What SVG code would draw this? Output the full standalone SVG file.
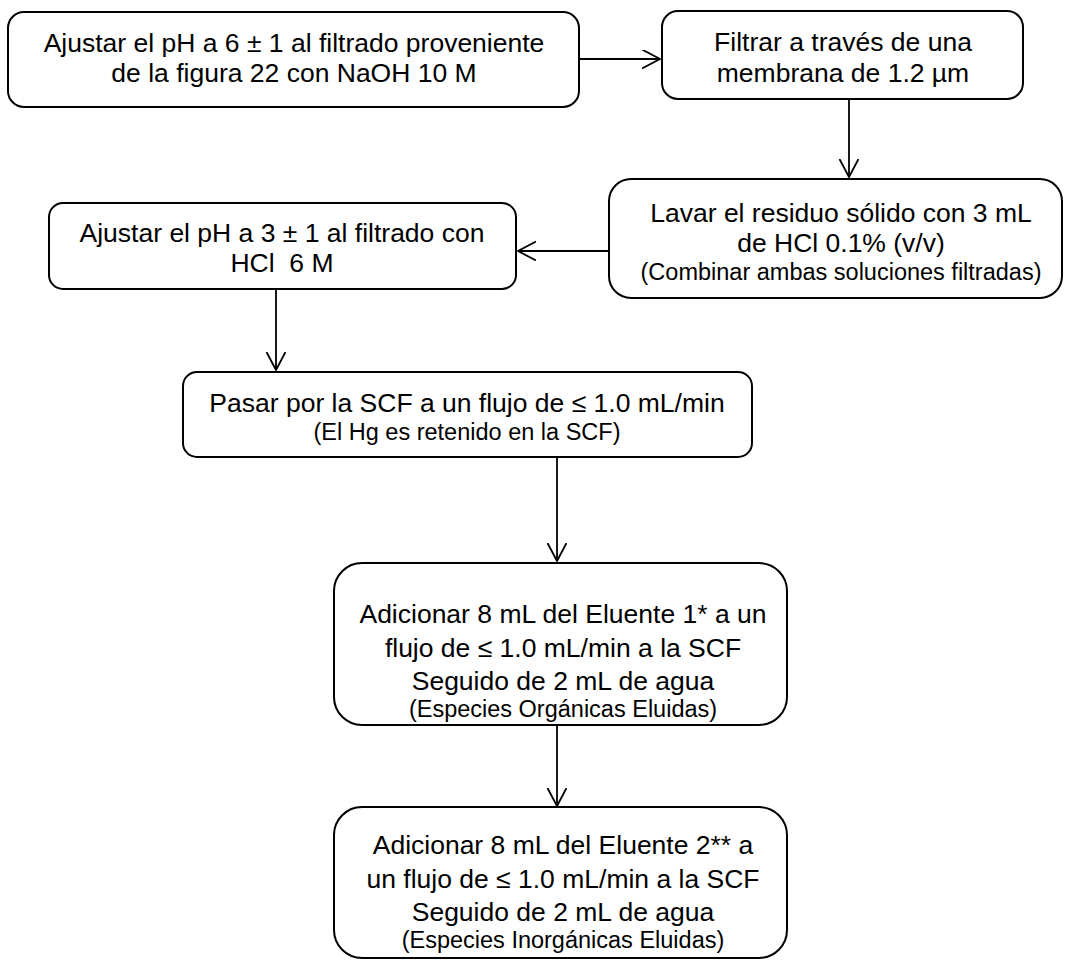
<svg xmlns="http://www.w3.org/2000/svg" width="1065" height="962" viewBox="0 0 1065 962">
<defs>
<marker id="open" markerUnits="userSpaceOnUse" markerWidth="22" markerHeight="22" refX="18" refY="9.5" orient="auto" viewBox="0 0 22 22">
<path d="M0,0 L18,9.5 L0,19" fill="none" stroke="#000" stroke-width="1.8"/>
</marker>
<style>
.box{fill:#fff;stroke:#000;stroke-width:2}
.t{font-family:"Liberation Sans",Arial,sans-serif;font-size:26.5px;fill:#000;text-anchor:middle}
.s{font-family:"Liberation Sans",Arial,sans-serif;font-size:23.5px;fill:#000;text-anchor:middle}
.c{stroke:#000;stroke-width:1.8;fill:none;marker-end:url(#open)}
</style>
</defs>
<rect width="1065" height="962" fill="#fff"/>
<g id="connectors">
<line class="c" x1="579" y1="59" x2="660" y2="59"/>
<line class="c" x1="849" y1="99" x2="849" y2="177"/>
<line class="c" x1="609" y1="251" x2="518" y2="251"/>
<line class="c" x1="276" y1="289" x2="276" y2="370"/>
<line class="c" x1="557" y1="457" x2="557" y2="561"/>
<line class="c" x1="557" y1="725" x2="557" y2="806"/>
</g>
<g id="n1">
<rect class="box" x="8" y="12" width="571" height="95" rx="16"/>
<text class="t" x="294" y="52">Ajustar el pH a 6 ± 1 al filtrado proveniente</text>
<text class="t" x="294" y="82">de la figura 22 con NaOH 10 M</text>
</g>
<g id="n2">
<rect class="box" x="662" y="11" width="361" height="88" rx="16"/>
<text class="t" x="843" y="51">Filtrar a través de una</text>
<text class="t" x="843" y="82">membrana de 1.2 µm</text>
</g>
<g id="n3">
<rect class="box" x="609" y="179" width="453" height="119" rx="22"/>
<text class="t" x="841" y="222">Lavar el residuo sólido con 3 mL</text>
<text class="t" x="841" y="252">de HCl 0.1% (v/v)</text>
<text class="s" x="841" y="280">(Combinar ambas soluciones filtradas)</text>
</g>
<g id="n4">
<rect class="box" x="49" y="203" width="467" height="86" rx="14"/>
<text class="t" x="282" y="242">Ajustar el pH a 3 ± 1 al filtrado con</text>
<text class="t" x="282" y="272" xml:space="preserve">HCl  6 M</text>
</g>
<g id="n5">
<rect class="box" x="183" y="372" width="569" height="85" rx="14"/>
<text class="t" x="467" y="412">Pasar por la SCF a un flujo de ≤ 1.0 mL/min</text>
<text class="s" x="467" y="440">(El Hg es retenido en la SCF)</text>
</g>
<g id="n6">
<rect class="box" x="334" y="563" width="453" height="162" rx="28"/>
<text class="t" x="563" y="623">Adicionar 8 mL del Eluente 1* a un</text>
<text class="t" x="563" y="657">flujo de ≤ 1.0 mL/min a la SCF</text>
<text class="t" x="563" y="690">Seguido de 2 mL de agua</text>
<text class="s" x="563" y="717">(Especies Orgánicas Eluidas)</text>
</g>
<g id="n7">
<rect class="box" x="334" y="807" width="453" height="151" rx="28"/>
<text class="t" x="563" y="854">Adicionar 8 mL del Eluente 2** a</text>
<text class="t" x="563" y="888">un flujo de ≤ 1.0 mL/min a la SCF</text>
<text class="t" x="563" y="921">Seguido de 2 mL de agua</text>
<text class="s" x="563" y="948">(Especies Inorgánicas Eluidas)</text>
</g>
</svg>
